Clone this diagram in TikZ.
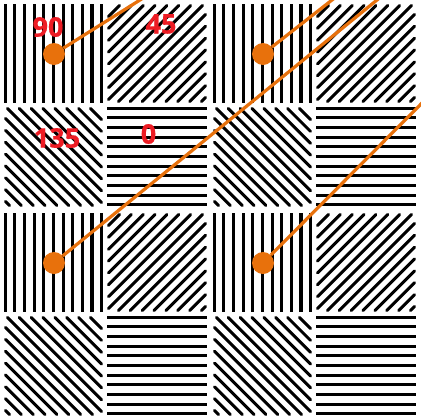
\documentclass[tikz,border=0pt]{standalone}
\usepackage{fontspec}
\setmainfont{Open Sans}
\newfontfamily\labelfont{Open Sans}[BoldFeatures={FakeBold=0.6}]
\usetikzlibrary{calc}
\definecolor{dotorange}{RGB}{232,113,12}
\definecolor{labelred}{RGB}{237,28,36}
\tikzset{
  hatch/.style={line width=3.1pt, black},
  diag/.style={line width=3pt, black, line cap=round},
  dotnode/.style={circle, fill=dotorange, inner sep=0pt, minimum size=22pt},
  ray/.style={dotorange, line width=3.2pt},
  anglelabel/.style={text=labelred, font=\labelfont\fontsize{27}{27}\selectfont\bfseries, inner sep=0pt}
}
\newcommand\hatchblock[2]{%
  \begin{scope}[shift={(#1,#2)}]
    \foreach \i in {0,...,10} \draw[hatch] ({5.3+9.63*\i},4) -- ({5.3+9.63*\i},103);
    \foreach \i in {0,...,10} \draw[hatch] (107,{108.3+9.64*\i}) -- (207,{108.3+9.64*\i});
    % 45 degree: x+y=c in [108.5,205.5]x[5.5,101.5]
    \foreach \k in {0,...,15} {
      \pgfmathsetmacro\cc{303-11.87*\k}
      \pgfmathsetmacro\xa{max(108.5,\cc-101.5)}
      \pgfmathsetmacro\xb{min(205.5,\cc-5.5)}
      \pgfmathparse{\xb>\xa?1:0}
      \ifnum\pgfmathresult=1
        \draw[diag] (\xa,{\cc-\xa}) -- (\xb,{\cc-\xb});
      \fi
    }
    % 135 degree: y-x=d in [5.5,101.5]x[108.5,205.5]
    \foreach \k in {0,...,15} {
      \pgfmathsetmacro\dd{18+11.87*\k}
      \pgfmathsetmacro\xa{max(5.5,108.5-\dd)}
      \pgfmathsetmacro\xb{min(101.5,205.5-\dd)}
      \pgfmathparse{\xb>\xa?1:0}
      \ifnum\pgfmathresult=1
        \draw[diag] (\xa,{\xa+\dd}) -- (\xb,{\xb+\dd});
      \fi
    }
  \end{scope}}
\begin{document}
\begin{tikzpicture}[x=1pt,y=-1pt]
  \useasboundingbox (0,0) rectangle (421,416);
  \fill[white] (0,0) rectangle (421,416);
  \clip (0,0) rectangle (421,416);
  \hatchblock{0}{0}
  \hatchblock{209}{0}
  \hatchblock{0}{209}
  \hatchblock{209}{209}
  \node[anglelabel] (l90) at (48,27) {90};
  \node[anglelabel] (l45) at (161,24) {45};
  \node[anglelabel] (l135) at (57,138) {135};
  \node[anglelabel] (l0) at (148.5,134) {0};
  \node[dotnode] (d1) at (54,54) {};
  \node[dotnode] (d2) at (263,54) {};
  \node[dotnode] (d3) at (54,263) {};
  \node[dotnode] (d4) at (263,263) {};
  \coordinate (e1) at (140,0);
  \coordinate (e2) at (332,0);
  \coordinate (e3) at (377,0);
  \coordinate (e4) at (421,104);
  \draw[ray] (d1) -- ($(d1)!1.1!(e1)$);
  \draw[ray] (d2) -- ($(d2)!1.1!(e2)$);
  \draw[ray] (d3) -- ($(d3)!1.1!(e3)$);
  \draw[ray] (d4) -- ($(d4)!1.1!(e4)$);
\end{tikzpicture}
\end{document}
